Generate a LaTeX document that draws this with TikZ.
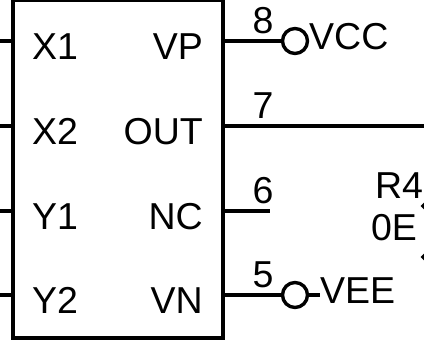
\documentclass[tikz,border=0pt]{standalone}
\usepackage{fontspec}
\usetikzlibrary{shapes.geometric}
\setmainfont{Liberation Sans}
\begin{document}
\begin{tikzpicture}[x=1pt,y=-1pt,
  wire/.style={line width=3.4pt,black},
  term/.style={circle,draw=black,line width=3.4pt,fill=white,minimum size=25pt,inner sep=0pt},
  lbl/.style={inner sep=0pt,text=black,font=\fontsize{37.5}{37.5}\selectfont,anchor=base},
  pad/.style={diamond,fill=black,minimum size=9pt,inner sep=0pt}]
\useasboundingbox (0,0) rectangle (424,351);
\clip (0,0) rectangle (424,351);
\coordinate (bl) at (13,338);
\coordinate (tr) at (223,0);
\draw[wire] (bl) rectangle (tr);
\foreach \n/\y in {a/41,b/126,c/211,d/295}{
  \coordinate (L\n) at (0,\y);
  \coordinate (P\n) at (13,\y);
  \coordinate (Q\n) at (223,\y);
  \draw[wire] (L\n) -- (P\n);
}
\node[term] (vcc) at (295,41) {};
\node[term] (vee) at (295,295) {};
\coordinate (o7) at (424,126);
\coordinate (o6) at (270,211);
\coordinate (veeend) at (320,295);
\draw[wire] (Qa) -- (vcc);
\draw[wire] (Qb) -- (o7);
\draw[wire] (Qc) -- (o6);
\draw[wire] (Qd) -- (vee);
\draw[wire] (vee) -- (veeend);
\node[lbl] (x1) at (55,59) {X1};
\node[lbl] (x2) at (55,144) {X2};
\node[lbl] (y1) at (55,229) {Y1};
\node[lbl] (y2) at (55,313) {Y2};
\node[lbl,anchor=base east] (vp) at (203,59) {VP};
\node[lbl,anchor=base east] (out) at (203,144) {OUT};
\node[lbl,anchor=base east] (nc) at (203,229) {NC};
\node[lbl,anchor=base east] (vn) at (203,313) {VN};
\node[lbl] (n8) at (263,33) {8};
\node[lbl] (n7) at (263,118) {7};
\node[lbl] (n6) at (263,203) {6};
\node[lbl] (n5) at (263,287) {5};
\node[lbl,anchor=base west] (vcct) at (309,49.5) {VCC};
\node[lbl,anchor=base west] (veet) at (320,303) {VEE};
\node[lbl] (r4) at (399,198) {R4};
\node[lbl] (e0) at (394,240) {0E};
\node[pad] (p1) at (425,206) {};
\node[pad] (p2) at (425,257) {};
\end{tikzpicture}
\end{document}
